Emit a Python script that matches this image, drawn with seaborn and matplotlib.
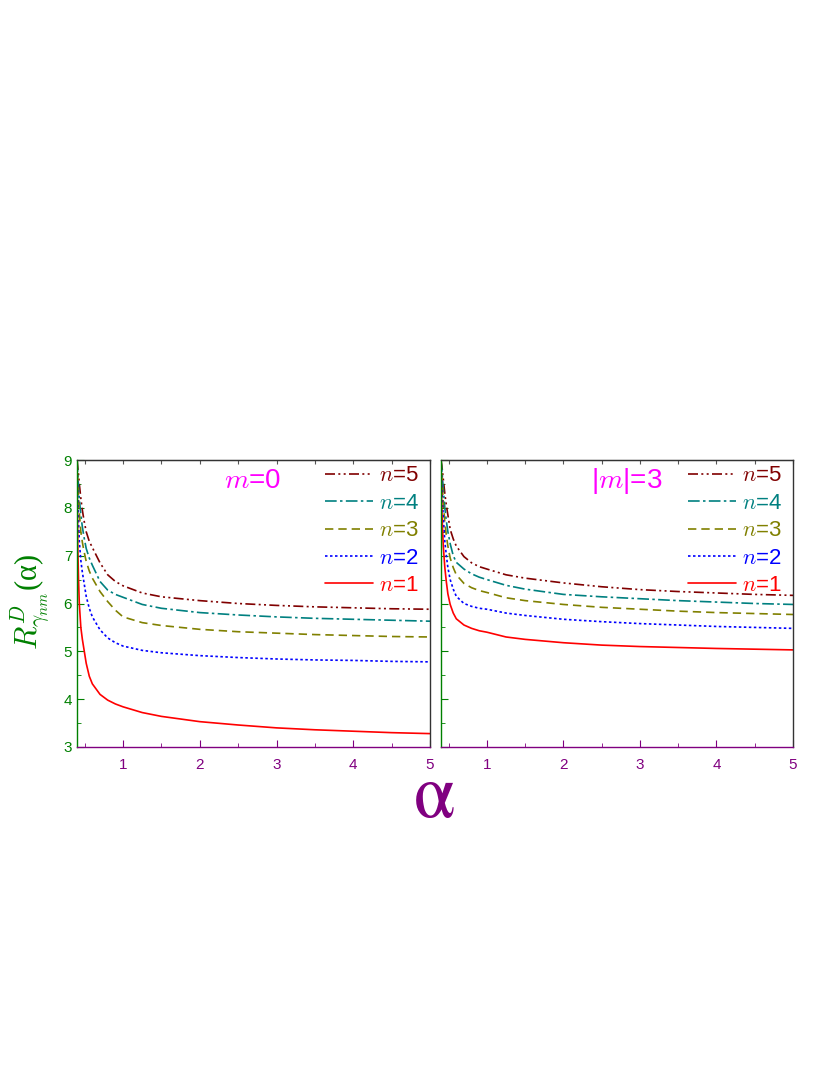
import numpy as np
import pandas as pd
import matplotlib
matplotlib.use("Agg")
import matplotlib.pyplot as plt
import seaborn as sns
from matplotlib.ticker import MultipleLocator

sns.set_style("ticks")
plt.rcParams['font.family'] = ['Liberation Sans', 'DejaVu Sans']
plt.rcParams['mathtext.fontset'] = 'cm'

alpha = [0.40, 0.405, 0.41, 0.42, 0.43, 0.45, 0.47, 0.49, 0.52, 0.56, 0.6, 0.7,
         0.8, 0.9, 1.0, 1.25, 1.5, 2, 2.5, 3, 3.5, 4, 4.5, 5]

# m = 0 panel
m0_n1 = [9.0, 8.0, 7.2, 6.5, 6.0, 5.5, 5.25, 5.05, 4.75, 4.48, 4.32, 4.1,
         3.98, 3.9, 3.84, 3.72, 3.64, 3.53, 3.46, 3.40, 3.36, 3.33, 3.30, 3.28]
m0_n2 = [9.0, 8.6, 8.2, 7.7, 7.3, 6.9, 6.65, 6.45, 6.15, 5.9, 5.72, 5.45,
         5.28, 5.18, 5.11, 5.02, 4.97, 4.91, 4.87, 4.84, 4.82, 4.81, 4.79, 4.78]
m0_n3 = [9.0, 8.8, 8.6, 8.2, 7.9, 7.5, 7.28, 7.1, 6.88, 6.68, 6.53, 6.25,
         6.04, 5.86, 5.72, 5.6, 5.54, 5.46, 5.41, 5.38, 5.35, 5.33, 5.31, 5.30]
m0_n4 = [9.0, 8.85, 8.7, 8.45, 8.2, 7.85, 7.6, 7.4, 7.15, 6.95, 6.8, 6.46,
         6.28, 6.19, 6.13, 5.98, 5.9, 5.81, 5.76, 5.72, 5.69, 5.67, 5.65, 5.63]
m0_n5 = [9.0, 8.95, 8.85, 8.7, 8.5, 8.2, 7.95, 7.75, 7.5, 7.3, 7.17, 6.85,
         6.6, 6.46, 6.37, 6.22, 6.14, 6.06, 6.0, 5.96, 5.93, 5.91, 5.89, 5.88]

# |m| = 3 panel
m3_n1 = [9.0, 8.5, 8.0, 7.55, 7.2, 6.75, 6.45, 6.2, 5.98, 5.8, 5.68, 5.55,
         5.48, 5.43, 5.40, 5.3, 5.25, 5.18, 5.13, 5.10, 5.08, 5.06, 5.045, 5.03]
m3_n2 = [9.0, 8.75, 8.5, 8.1, 7.8, 7.3, 7.0, 6.75, 6.5, 6.3, 6.15, 6.0,
         5.94, 5.9, 5.88, 5.8, 5.75, 5.67, 5.62, 5.58, 5.55, 5.52, 5.50, 5.48]
m3_n3 = [9.0, 8.85, 8.7, 8.4, 8.1, 7.7, 7.42, 7.2, 6.95, 6.75, 6.6, 6.42,
         6.33, 6.27, 6.23, 6.12, 6.06, 5.98, 5.92, 5.88, 5.84, 5.81, 5.79, 5.77]
m3_n4 = [9.0, 8.9, 8.8, 8.6, 8.4, 8.0, 7.72, 7.5, 7.25, 7.0, 6.86, 6.72,
         6.62, 6.55, 6.5, 6.38, 6.30, 6.19, 6.14, 6.10, 6.06, 6.03, 6.00, 5.98]
m3_n5 = [9.0, 8.95, 8.9, 8.75, 8.6, 8.3, 8.05, 7.85, 7.55, 7.35, 7.2, 6.98,
         6.85, 6.77, 6.72, 6.6, 6.53, 6.43, 6.35, 6.29, 6.25, 6.22, 6.19, 6.17]

n_labels = ["5", "4", "3", "2", "1"]
panel_titles = ["$m$=0", "|$m$|=3"]

colors = {"1": "#FF0000", "2": "#0000FF", "3": "#808000", "4": "#008080", "5": "#800000"}
dashes = {"1": "-", "2": (0, (1.5, 1.5)), "3": (0, (5, 3)),
          "4": (0, (7, 2, 1.5, 2)), "5": (0, (6, 2, 1.2, 2, 1.2, 2))}

panels = [
    {"1": m0_n1, "2": m0_n2, "3": m0_n3, "4": m0_n4, "5": m0_n5},
    {"1": m3_n1, "2": m3_n2, "3": m3_n3, "4": m3_n4, "5": m3_n5},
]

fig = plt.figure(figsize=(8.3, 10.75), dpi=100)
bottom, top = 1 - 747 / 1075, 1 - 460 / 1075
axes = [fig.add_axes([77 / 830, bottom, (430 - 77) / 830, top - bottom]),
        fig.add_axes([441 / 830, bottom, (793 - 441) / 830, top - bottom])]

GREEN = "#008000"
PURPLE = "#800080"
MAGENTA = "#FF00FF"
title_x = [0.496, 0.528]

for i, ax in enumerate(axes):
    data = panels[i]
    for n in n_labels:
        df = pd.DataFrame({"alpha": alpha, "R": data[n]})
        sns.lineplot(data=df, x="alpha", y="R", ax=ax, color=colors[n],
                     linewidth=1.2, linestyle=dashes[n], label="$n$=" + n)
    ax.set_xlim(0.4, 5)
    ax.set_ylim(3, 9)
    ax.set_xlabel("")
    ax.set_ylabel("")
    ax.xaxis.set_major_locator(MultipleLocator(1))
    ax.xaxis.set_minor_locator(MultipleLocator(0.5))
    ax.yaxis.set_major_locator(MultipleLocator(1))
    ax.yaxis.set_minor_locator(MultipleLocator(0.5))
    ax.tick_params(axis="x", which="both", direction="in", colors=PURPLE,
                   labelsize=11, top=False)
    ax.tick_params(axis="x", which="major", length=5, pad=8)
    ax.tick_params(axis="x", which="minor", length=3)
    ax.tick_params(axis="y", which="both", direction="in", colors=GREEN,
                   labelsize=11, right=False)
    ax.tick_params(axis="y", which="major", length=5)
    ax.tick_params(axis="y", which="minor", length=3)
    if i == 1:
        ax.tick_params(axis="y", labelleft=False)
    sec = ax.secondary_xaxis("top")
    sec.xaxis.set_major_locator(MultipleLocator(0.5))
    sec.tick_params(axis="x", direction="in", length=3, colors="#555555",
                    labeltop=False)
    sec.spines["top"].set_color("#333333")
    ax.spines["left"].set_color(GREEN)
    ax.spines["bottom"].set_color(PURPLE)
    ax.spines["top"].set_color("#333333")
    ax.spines["right"].set_color("#333333")
    for s in ax.spines.values():
        s.set_linewidth(1.0)
    ax.text(title_x[i], 0.927, panel_titles[i], transform=ax.transAxes,
            color=MAGENTA, fontsize=20, ha="center", va="center")
    leg = ax.legend(loc="upper right", frameon=False, fontsize=16,
                    handlelength=2.15, handletextpad=0.3, labelspacing=0.29,
                    borderaxespad=0.0, bbox_to_anchor=(0.995, 1.012))
    for txt, n in zip(leg.get_texts(), n_labels):
        txt.set_color(colors[n])

fig.text(30 / 830, 1 - 602 / 1075, r"$R^{D}_{\gamma_{nm}}$(α)", rotation=90,
         color=GREEN, fontsize=22, ha="center", va="center",
         family=["Liberation Serif", "DejaVu Serif"])
fig.text(434 / 830, 1 - 797 / 1075, r"$\mathrm{α}$", color=PURPLE, fontsize=54,
         ha="center", va="center", math_fontfamily="stix")

fig.savefig("out.png", dpi=100, facecolor="white")
